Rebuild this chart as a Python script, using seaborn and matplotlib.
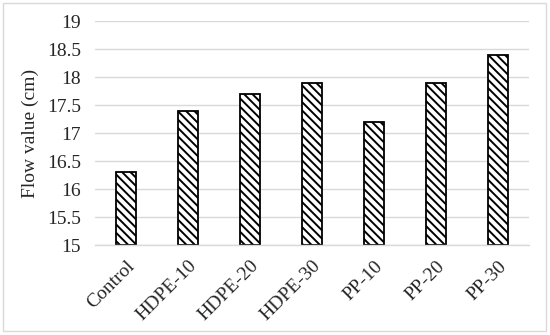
import numpy as np
import pandas as pd
import matplotlib
matplotlib.use("Agg")
import matplotlib.pyplot as plt
import seaborn as sns
from matplotlib.patches import Rectangle

# Data
mixes = ["Control", "HDPE-10", "HDPE-20", "HDPE-30", "PP-10", "PP-20", "PP-30"]
flow_cm = [16.3, 17.4, 17.7, 17.9, 17.2, 17.9, 18.4]
y_ticks = [15, 15.5, 16, 16.5, 17, 17.5, 18, 18.5, 19]

df = pd.DataFrame({"mix": mixes, "flow": flow_cm})

sns.set_style("white")
plt.rcParams["font.family"] = ["Liberation Serif", "DejaVu Serif"]
plt.rcParams["hatch.linewidth"] = 1.4

fig = plt.figure(figsize=(5.5, 3.35), dpi=100)
ax = fig.add_axes([95 / 550, 1 - 245 / 335, (529 - 95) / 550, (245 - 21) / 335])

sns.barplot(data=df, x="mix", y="flow", ax=ax, width=0.32,
            color="white", edgecolor="black", linewidth=1.3, hatch="\\\\\\\\")

# bars start at the axis floor (15), like the original
for bar in ax.patches:
    h = bar.get_height()
    bar.set_y(15)
    bar.set_height(h - 15)

fs = 14
ax.set_ylim(15, 19)
ax.set_yticks(y_ticks)
ax.set_yticklabels([f"{t:g}" for t in y_ticks], fontsize=fs)
ax.set_xlim(-0.5, len(mixes) - 0.5)
ax.set_xticks(range(len(mixes)))
ax.set_xticklabels(mixes, rotation=45, ha="right", rotation_mode="anchor", fontsize=fs)
ax.tick_params(axis="y", length=0, pad=10)
ax.tick_params(axis="x", length=0, pad=9)
ax.set_xlabel("")
ax.set_ylabel("Flow value (cm)", fontsize=fs, labelpad=6)

ax.yaxis.grid(True, color="#d9d9d9", linewidth=1)
ax.set_axisbelow(True)
for side in ["top", "right", "left"]:
    ax.spines[side].set_visible(False)
ax.spines["bottom"].set_color("#d9d9d9")
ax.spines["bottom"].set_linewidth(1)

# light frame around the whole chart
fig.patches.append(Rectangle((3 / 550, 4 / 335), 543 / 550, 328 / 335,
                             transform=fig.transFigure, fill=False,
                             edgecolor="#d9d9d9", linewidth=1))

fig.savefig("out.png", dpi=100)
